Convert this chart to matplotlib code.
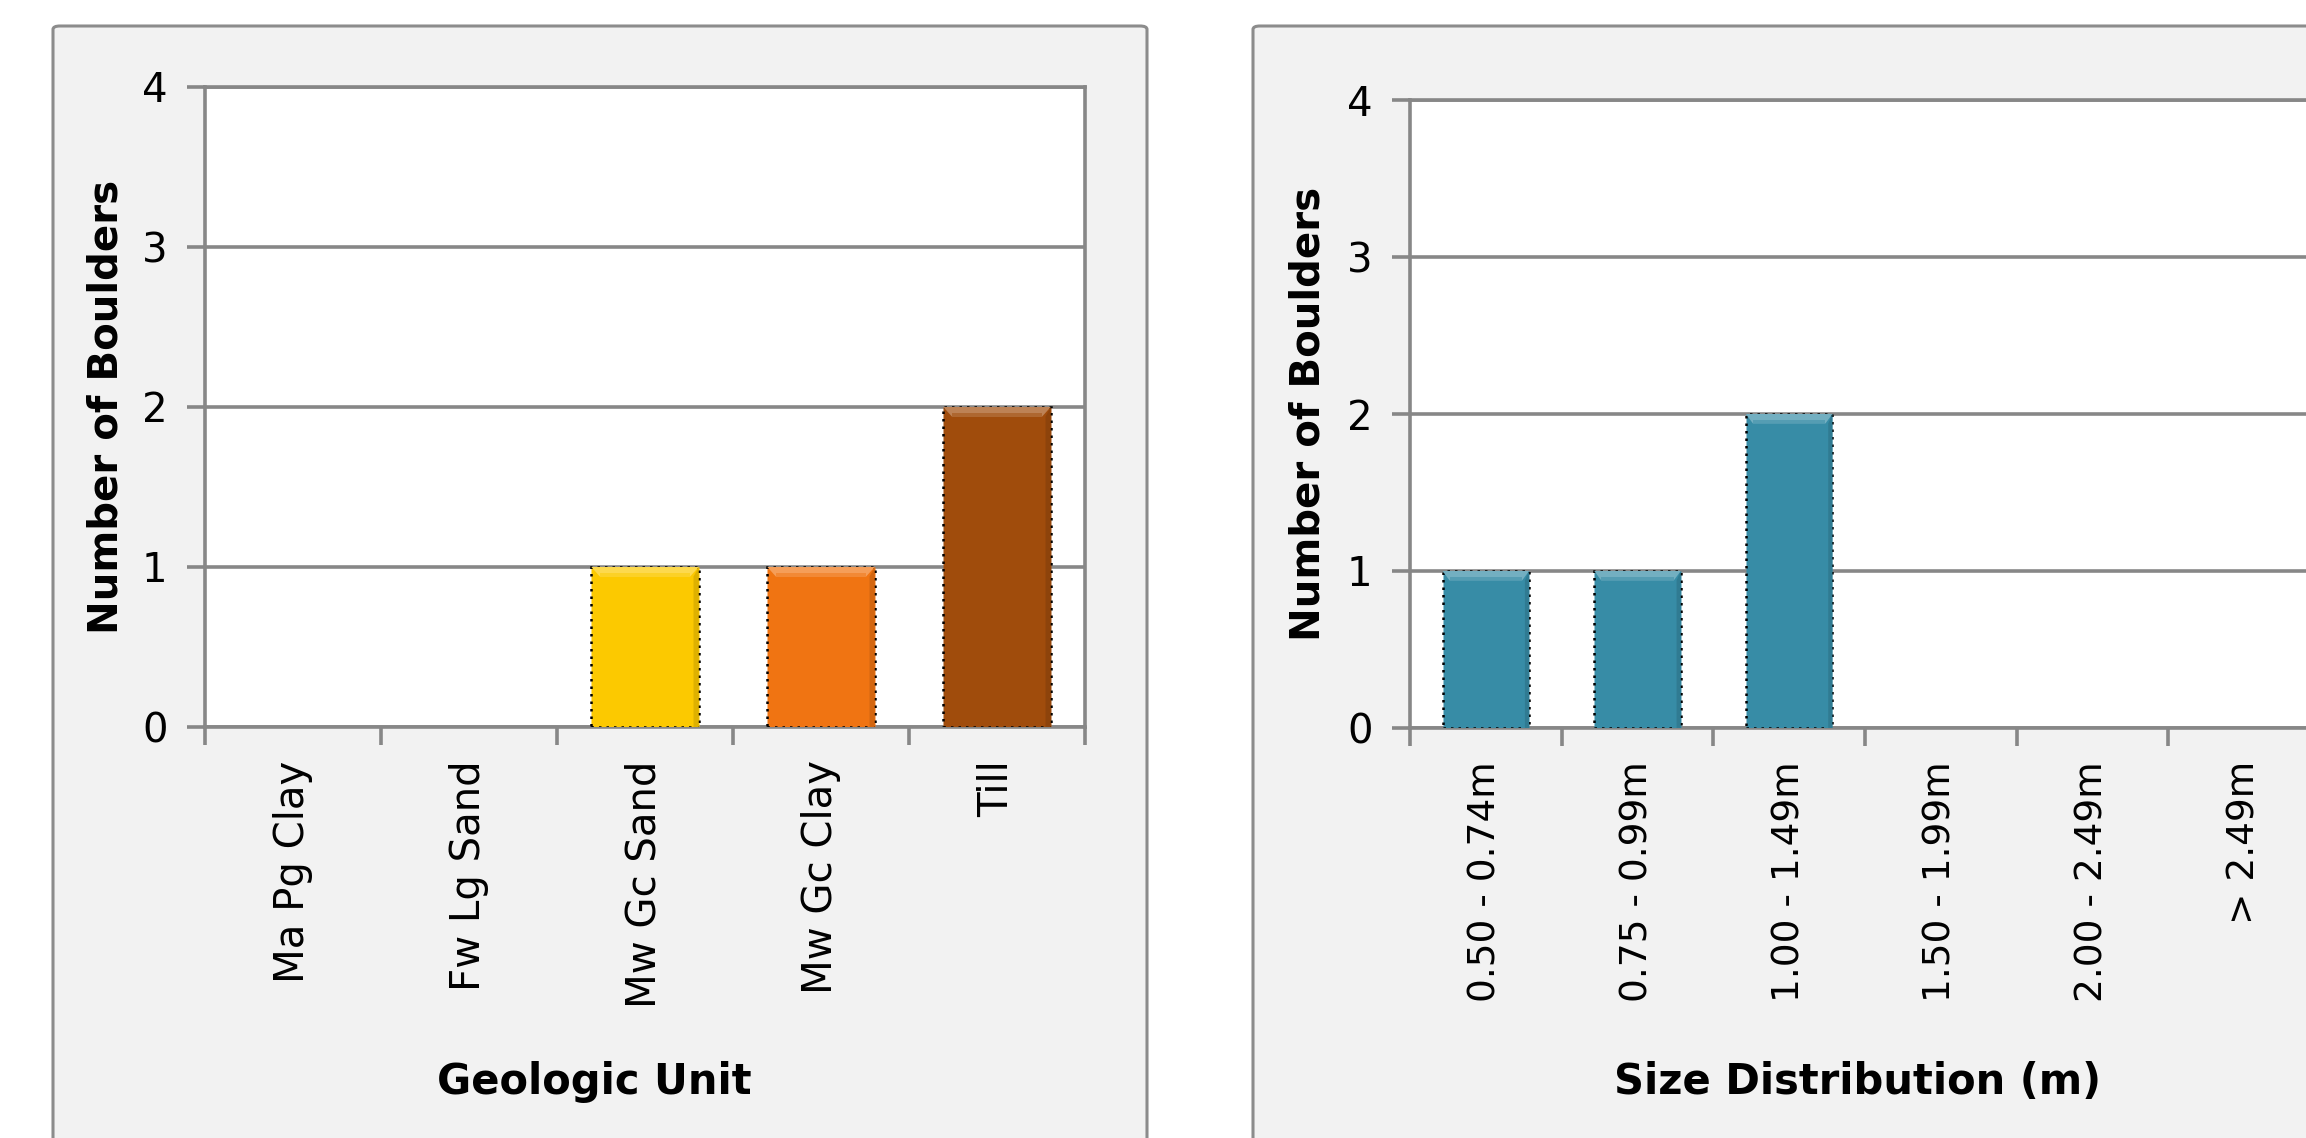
import matplotlib
matplotlib.use('Agg')
import matplotlib.pyplot as plt
from matplotlib.patches import FancyBboxPatch
import numpy as np

plt.rcParams['font.family'] = ['DejaVu Sans']

# boulder counts by geologic unit
units = ['Ma Pg Clay', 'Fw Lg Sand', 'Mw Gc Sand', 'Mw Gc Clay', 'Till']
unit_counts = [0, 0, 1, 1, 2]
unit_colors = ['#FCC900', '#FCC900', '#FCC900', '#F07412', '#A04C0C']

# boulder counts by size class
sizes = ['0.50 - 0.74m', '0.75 - 0.99m', '1.00 - 1.49m',
         '1.50 - 1.99m', '2.00 - 2.49m', '> 2.49m']
size_counts = [1, 1, 2, 0, 0, 0]
size_color = '#378CA6'

GRID = '#878787'
PANEL = '#F2F2F2'

W, H = 2306, 1138
fig = plt.figure(figsize=(W / 100, H / 100), dpi=100)
fig.patch.set_facecolor('white')


def px_rect(x0, y0, x1, y1):
    # pixel box (top-left origin) -> figure fraction [left, bottom, width, height]
    return [x0 / W, 1 - y1 / H, (x1 - x0) / W, (y1 - y0) / H]


# grey chart-area panels behind each plot
for x0, x1 in [(53, 1147), (1253, 2400)]:
    l, b, w, h = px_rect(x0, 26, x1, 1200)
    fig.patches.append(FancyBboxPatch((l, b), w, h, transform=fig.transFigure,
                                      boxstyle='round,pad=0,rounding_size=0.003',
                                      facecolor=PANEL, edgecolor='#8C8C8C',
                                      linewidth=2.2, zorder=-5))


def lighten(c, f):
    rgb = np.array(matplotlib.colors.to_rgb(c))
    return tuple(rgb + (1 - rgb) * f)


def darken(c, f):
    rgb = np.array(matplotlib.colors.to_rgb(c))
    return tuple(rgb * (1 - f))


def bar_chart(ax, labels, counts, colors, width, xlabel, tick_size):
    x = np.arange(len(labels))
    ax.set_zorder(2)
    ax.set_facecolor('white')
    bars = ax.bar(x, counts, width=width, color=colors, edgecolor='black',
                  linestyle=(0, (1, 2)), linewidth=1.8, zorder=3)
    # bevelled top + shaded right side on each bar
    for b, xi, h, c in zip(bars, x, counts, colors):
        if h <= 0:
            b.set_edgecolor('none')
            continue
        x0, x1 = xi - width / 2, xi + width / 2
        d, dy = width * 0.08, 0.06
        ax.fill([x0, x1, x1 - d, x0 + d], [h, h, h - dy, h - dy],
                color=lighten(c, 0.3), zorder=4, linewidth=0)
        ax.fill([x0 + d, x1 - d, x1 - d, x0 + d],
                [h - dy, h - dy, h - dy * 0.6, h - dy * 0.6],
                color=lighten(c, 0.15), zorder=4, linewidth=0)
        ax.fill([x1 - d * 0.6, x1, x1, x1 - d * 0.6], [h - dy, h, 0, 0],
                color=darken(c, 0.12), zorder=4, linewidth=0)

    ax.set_xlim(-0.5, len(labels) - 0.5)
    ax.set_ylim(0, 4)
    ax.set_yticks([0, 1, 2, 3, 4])
    ax.yaxis.grid(True, color=GRID, linewidth=2.6, zorder=1)
    ax.set_axisbelow(True)

    ax.set_xticks(x)
    ax.set_xticklabels(labels, rotation=90, fontsize=tick_size)
    ax.set_xticks(np.arange(len(labels) + 1) - 0.5, minor=True)
    ax.tick_params(axis='x', which='major', length=0, pad=24)
    ax.tick_params(axis='x', which='minor', length=13, width=2.6,
                   color=GRID, direction='out')
    ax.tick_params(axis='y', length=13, width=2.6, color=GRID,
                   labelsize=29, pad=14)

    for s in ax.spines.values():
        s.set_color(GRID)
        s.set_linewidth(2.6)

    ax.set_ylabel('Number of Boulders', fontsize=29, fontweight='bold',
                  va='center')
    ax.yaxis.set_label_coords(-0.112, 0.5)
    ax.set_xlabel(xlabel, fontsize=30, fontweight='bold', va='center')


ax1 = fig.add_axes(px_rect(205, 87, 1085, 727))
bar_chart(ax1, units, unit_counts, unit_colors, 0.61, 'Geologic Unit', 29)
ax1.xaxis.set_label_coords(0.442, -0.555)

ax2 = fig.add_axes(px_rect(1410, 100, 2320, 728))
bar_chart(ax2, sizes, size_counts, [size_color] * len(sizes), 0.57,
          'Size Distribution (m)', 27)
ax2.xaxis.set_label_coords(0.492, -0.564)
ax2.yaxis.set_label_coords(-0.111, 0.5)
ax2.spines['right'].set_visible(False)

fig.savefig('out.png', dpi=100)
